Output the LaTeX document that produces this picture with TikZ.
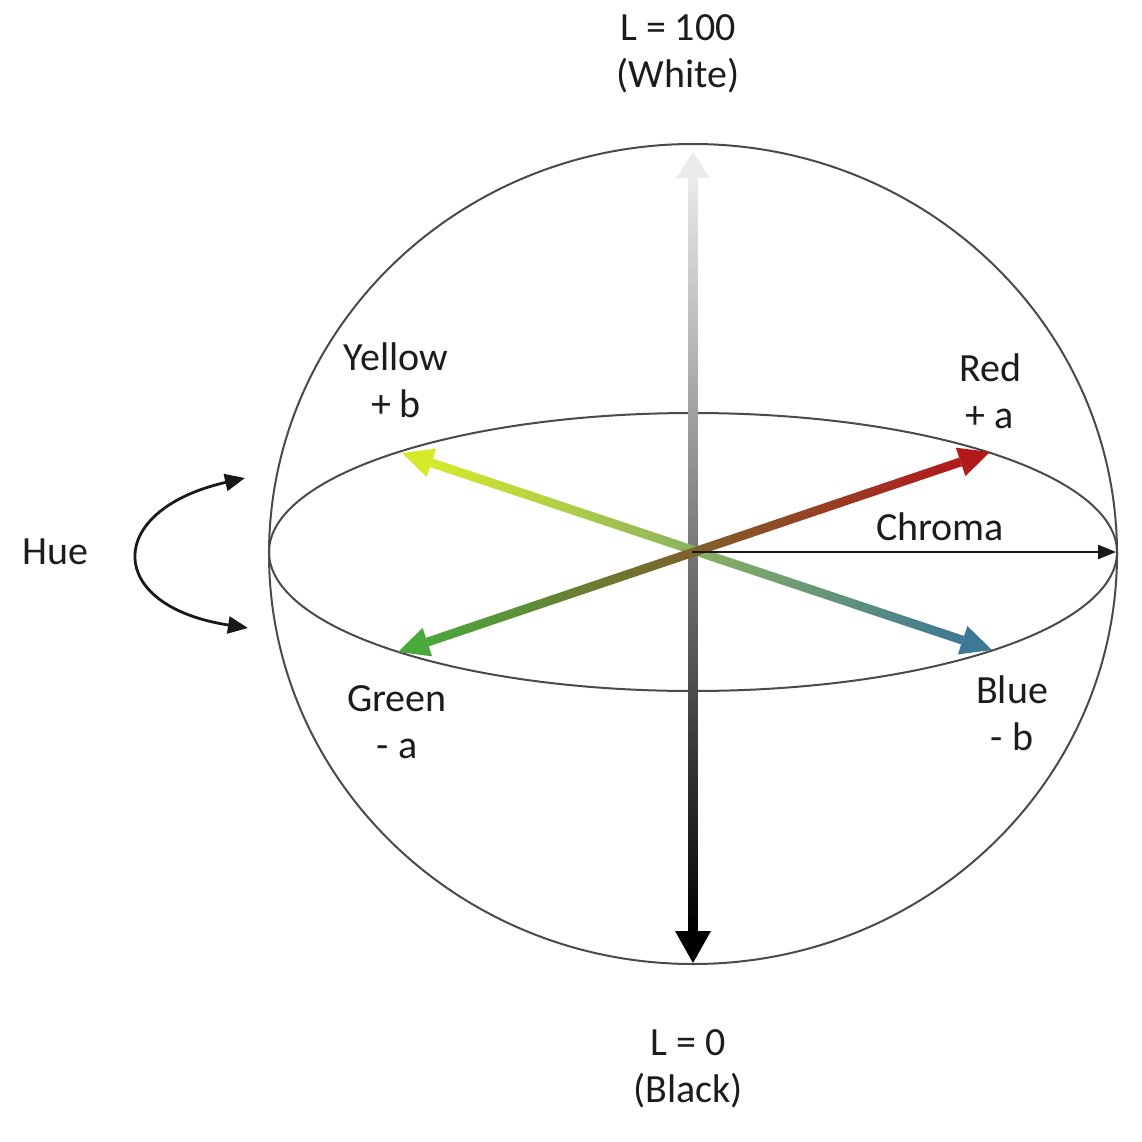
\documentclass[tikz,border=0pt]{standalone}
\usepackage{fontspec}
\setmainfont{Carlito}
\usetikzlibrary{calc,arrows.meta}
\definecolor{ycol}{HTML}{D6EA2A}
\definecolor{bmid}{HTML}{6F9E45}
\definecolor{bcol}{HTML}{3D7896}
\definecolor{gcol}{HTML}{4AA83C}
\definecolor{amid}{HTML}{33321A}
\definecolor{rcol}{HTML}{B3191B}
\definecolor{txt}{HTML}{1C1C1C}
\definecolor{rim}{HTML}{4A4A4A}
\begin{document}
\begin{tikzpicture}[x=1pt,y=-1pt,
  outline/.style={draw=rim,line width=2pt},
  lab/.style={font=\fontsize{40}{47}\selectfont,text=txt,align=center,inner sep=0pt},
  huearrow/.style={line width=2.8pt,black!90,{Triangle[length=20pt,width=17pt]}-{Triangle[length=20pt,width=17pt]}},
  chromaarrow/.style={line width=2.5pt,black!90,-{Triangle[length=18pt,width=14pt]}}]
\useasboundingbox (0,0) rectangle (1142,1142);
% key points
\coordinate (C) at (692,552);
\coordinate (Ytip) at (402,453);
\coordinate (Btip) at (992,650);
\coordinate (Gtip) at (398,652);
\coordinate (Rtip) at (990,452);
\coordinate (Ltop) at (693,152);
\coordinate (Lbot) at (693,963);
\coordinate (Ctip) at (1116,552);
\coordinate (hue1) at (245,478);
\coordinate (hue2) at (248,628);
% sphere and equator
\draw[outline] (693,554) ellipse [x radius=424, y radius=410];
\draw[outline] (693,552) ellipse [x radius=424, y radius=139];
% vertical L axis
\shade[top color=black!8,middle color=black!65,bottom color=black] (688.5,177) rectangle (697.5,933);
\fill[black!8] (Ltop) -- (676,178) -- (710,178) -- cycle;
\fill[black] (Lbot) -- (675,931) -- (711,931) -- cycle;
% arrow head bases
\coordinate (Yb) at ($(Ytip)!31pt!(Btip)$);
\coordinate (Bb) at ($(Btip)!31pt!(Ytip)$);
\coordinate (Gb) at ($(Gtip)!31pt!(Rtip)$);
\coordinate (Rb) at ($(Rtip)!31pt!(Gtip)$);
% b axis (yellow - blue)
\shade[left color=ycol,middle color=bmid,right color=bcol]
  ($(Yb)!4.5pt!90:(Bb)$) -- ($(Bb)!4.5pt!-90:(Yb)$) -- ($(Bb)!4.5pt!90:(Yb)$) -- ($(Yb)!4.5pt!-90:(Bb)$) -- cycle;
\fill[ycol] (Ytip) -- ($(Yb)!15pt!90:(Ytip)$) -- ($(Yb)!15pt!-90:(Ytip)$) -- cycle;
\fill[bcol] (Btip) -- ($(Bb)!15pt!90:(Btip)$) -- ($(Bb)!15pt!-90:(Btip)$) -- cycle;
% a axis (green - red)
\shade[left color=gcol,middle color=amid,right color=rcol]
  ($(Gb)!4.5pt!90:(Rb)$) -- ($(Rb)!4.5pt!-90:(Gb)$) -- ($(Rb)!4.5pt!90:(Gb)$) -- ($(Gb)!4.5pt!-90:(Rb)$) -- cycle;
\fill[gcol] (Gtip) -- ($(Gb)!15pt!90:(Gtip)$) -- ($(Gb)!15pt!-90:(Gtip)$) -- cycle;
\fill[rcol] (Rtip) -- ($(Rb)!15pt!90:(Rtip)$) -- ($(Rb)!15pt!-90:(Rtip)$) -- cycle;
% chroma
\draw[chromaarrow] (C) -- (Ctip);
% hue
\draw[huearrow] (hue1) .. controls (104,510) and (104,606) .. (hue2);
% labels
\node[lab] (lwhite) at (678,54) {L = 100\\(White)};
\node[lab] (lblack) at (688,1069) {L = 0\\(Black)};
\node[lab] (lyellow) at (396,380) {Yellow\\+ b};
\node[lab] (lred) at (990,391) {Red\\+ a};
\node[lab] (lgreen) at (397,722) {Green\\- a};
\node[lab] (lblue) at (1012,713) {Blue\\- b};
\node[lab] (lhue) at (55,552) {Hue};
\node[lab] (lchroma) at (940,527) {Chroma};
\end{tikzpicture}
\end{document}
